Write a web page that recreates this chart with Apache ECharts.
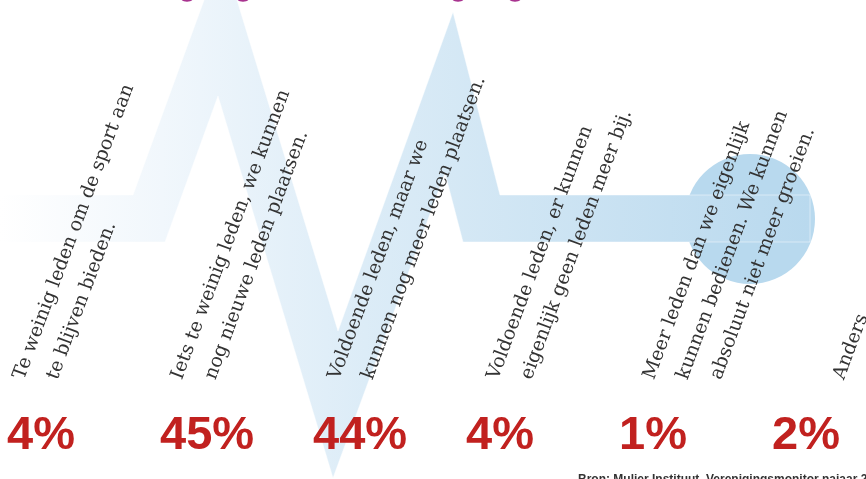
<!DOCTYPE html>
<html><head><meta charset="utf-8">
<script src="https://cdn.jsdelivr.net/npm/echarts@6/dist/echarts.min.js"></script>
<style>html,body{margin:0;padding:0;background:#fff;overflow:hidden}#c{width:866px;height:479px}</style>
</head><body><div id="c"></div>
<script>
// ---- data ----
const categories = ['Te weinig', 'Iets te weinig', 'Voldoende, groei mogelijk', 'Voldoende, vol', 'Meer dan bedienbaar', 'Anders'];
const values = [4, 45, 44, 4, 1, 2];
const labelLines = [
  ['Te weinig leden om de sport aan', 'te blijven bieden.'],
  ['Iets te weinig leden, we kunnen', 'nog nieuwe leden plaatsen.'],
  ['Voldoende leden, maar we', 'kunnen nog meer leden plaatsen.'],
  ['Voldoende leden, er kunnen', 'eigenlijk geen leden meer bij.'],
  ['Meer leden dan we eigenlijk', 'kunnen bedienen. We kunnen', 'absoluut niet meer groeien.'],
  ['Anders']
];
const sourceText = 'Bron: Mulier Instituut, Verenigingsmonitor najaar 2017';

// ---- layout (not data) ----
const labelShift = [21, 26, 30, 36, 39, 76];
const lineStep = 33.5;
const labelBaseY = 382;
const rot = 69.5 * Math.PI / 180;

const chart = echarts.init(document.getElementById('c'), null, {renderer: 'canvas'});
chart.setOption({
  animation: false,
  backgroundColor: '#ffffff',
  grid: {left: 7, right: 94, top: 20, bottom: 19},
  xAxis: {type: 'category', data: categories, boundaryGap: false, show: false},
  yAxis: {type: 'value', min: 0, max: 50, show: false},
  series: [{
    type: 'bar',
    data: values,
    barWidth: 1,
    itemStyle: {color: 'rgba(0,0,0,0)'},
    z: 5,
    label: {
      show: true,
      position: 'insideBottom',
      distance: 0,
      align: 'left',
      verticalAlign: 'bottom',
      formatter: p => p.value + '%',
      color: '#c1211f',
      fontFamily: '"Liberation Sans", Arial, sans-serif',
      fontWeight: 'bold',
      fontSize: 47,
      lineHeight: 47
    }
  }]
});

const els = [];
// decorative heartbeat band
const grad = new echarts.graphic.LinearGradient(0, 0, 810, 0, [
  {offset: 0, color: '#ffffff'},
  {offset: 0.2, color: '#f1f7fc'},
  {offset: 0.45, color: '#dcecf7'},
  {offset: 1, color: '#b9d9ee'}
], true);
els.push({type: 'circle', shape: {cx: 750, cy: 219, r: 65}, style: {fill: '#b8d9ee'}, z: 0, silent: true});
els.push({
  type: 'polygon', z: 1, silent: true,
  shape: {points: [[0,195],[133,195],[222,-49],[338,331],[453,12],[500,195],[810,195],[810,242],[463,242],[445,173],[333,478],[218,96],[165,242],[0,242]]},
  style: {fill: grad, stroke: 'rgba(255,255,255,0.45)', lineWidth: 1}
});
// purple fragments at top edge
[[187,-1.5],[243,-1.5],[458,-1.5],[515,-1.5]].forEach(p => els.push({type:'ellipse', shape:{cx:p[0], cy:p[1], rx:6, ry:3.2}, style:{fill:'#a8338f'}, z: 1, silent: true}));

// rotated category labels
categories.forEach((c, i) => {
  const px = chart.convertToPixel({xAxisIndex: 0}, c);
  labelLines[i].forEach((t, k) => {
    els.push({
      type: 'text', z: 10, silent: true,
      x: px + labelShift[i] + k * lineStep,
      y: labelBaseY,
      rotation: rot,
      style: {
        text: t, x: 0, y: 0,
        fill: '#333333',
        font: '19px "DejaVu Serif", serif',
        textAlign: 'left', textVerticalAlign: 'bottom',
        align: 'left', verticalAlign: 'bottom'
      }
    });
  });
});
els.push({type: 'text', z: 10, silent: true, x: 578, y: 474,
  style: {text: sourceText, x: 0, y: 0, fill: '#333', font: 'bold 12px "Liberation Sans", Arial, sans-serif', textAlign: 'left', textVerticalAlign: 'top', align: 'left', verticalAlign: 'top'}});

chart.setOption({graphic: {elements: els}});
</script>
</body></html>
